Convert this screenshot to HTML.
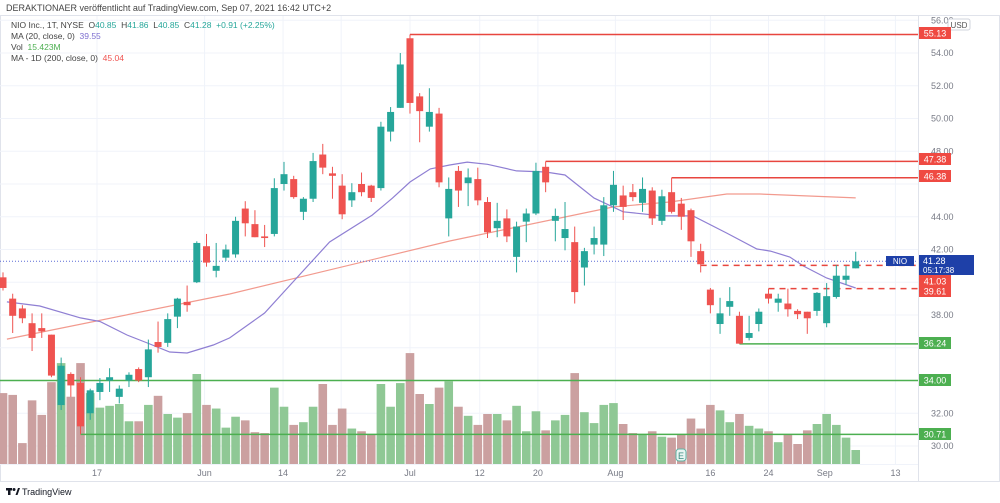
<!DOCTYPE html>
<html><head><meta charset="utf-8">
<style>
body{margin:0;background:#fff;width:1000px;height:503px;overflow:hidden;font-family:"Liberation Sans",sans-serif}
svg{position:absolute;left:0;top:0}
</style></head>
<body>
<svg id="chart" width="1000" height="503" xmlns="http://www.w3.org/2000/svg"></svg>
<script>
const opens=[40.3,39.0,38.4,37.5,37.2,36.8,32.5,34.4,33.85,32.0,33.3,34.0,33.0,34.0,34.7,34.2,36.35,36.3,37.9,38.8,40.0,42.2,40.7,41.5,41.7,44.5,43.55,42.8,42.95,46.0,46.3,44.3,45.1,47.8,46.65,45.9,45.0,46.0,45.9,45.75,49.2,50.65,54.9,51.35,49.5,50.3,43.9,46.8,46.05,46.3,44.9,43.3,43.9,41.55,43.7,44.2,47.05,43.75,42.7,42.45,40.9,42.3,42.3,44.7,45.3,45.5,44.85,45.6,43.75,45.5,44.8,44.4,41.9,39.55,37.45,38.5,37.95,36.6,37.45,39.3,38.75,38.7,38.25,38.2,38.25,37.5,39.1,40.15,40.85];
const closes=[39.65,37.95,37.8,36.6,37.0,34.3,34.9,33.7,31.2,33.4,33.85,34.2,33.5,34.35,34.0,35.9,36.05,37.75,39.0,38.6,42.4,41.2,41.0,42.0,43.75,43.6,42.75,42.7,45.75,46.6,45.2,45.1,47.4,47.0,46.5,44.15,45.5,45.5,45.15,49.5,50.4,53.3,50.95,50.45,50.4,46.1,45.7,45.6,46.4,45.0,43.05,43.75,42.8,43.4,44.2,46.8,46.1,44.05,43.25,39.4,41.9,42.7,44.7,45.95,44.6,45.2,45.7,43.9,45.25,44.3,44.0,42.5,41.1,38.6,38.1,38.85,36.25,36.9,38.2,39.0,39.0,38.35,38.05,37.8,39.35,39.15,40.4,40.4,41.28];
const highs=[40.6,39.3,38.6,38.1,38.1,36.8,35.4,34.5,34.2,33.5,34.15,34.75,33.7,34.5,34.8,36.5,37.6,38.1,39.05,39.8,42.5,42.95,42.4,42.3,44.0,44.95,44.4,43.5,46.35,47.35,46.5,45.2,47.9,48.45,47.05,46.6,46.05,46.7,45.95,49.8,50.7,54.0,55.13,51.55,51.85,50.65,46.4,47.1,46.95,47.0,45.2,44.85,44.45,43.7,44.5,47.3,47.38,44.5,44.9,43.4,42.1,43.4,45.2,46.8,45.9,46.0,46.4,45.8,45.65,46.38,45.15,44.5,42.35,39.65,39.05,39.7,38.2,37.95,38.4,39.61,39.3,39.61,38.35,38.2,39.4,39.95,41.05,41.0,41.86];
const lows=[39.5,36.9,37.5,35.8,36.6,34.2,32.2,33.0,30.71,31.6,32.8,33.3,32.6,33.6,33.9,33.6,35.7,36.05,37.2,38.2,39.95,40.95,40.3,41.3,41.5,42.8,42.75,42.15,42.8,45.6,45.1,43.8,44.9,46.6,45.1,43.85,44.6,45.25,44.9,45.6,48.6,50.65,50.3,48.55,49.2,45.8,42.8,44.6,44.65,44.7,42.7,42.75,42.45,40.6,42.45,44.1,45.5,42.5,41.95,38.7,39.8,41.7,41.6,44.3,43.8,44.95,44.3,43.5,43.5,44.2,43.2,41.55,40.6,38.1,36.85,37.95,36.24,36.45,37.0,38.7,38.2,37.9,37.75,36.85,37.95,37.25,39.0,39.85,40.85];
const volumes=[78,76,23,70,54,90,111,74,111,78,62,64,66,47,47,65,75,55,51,56,99,65,61,40,52,48,35,34,84,63,43,46,63,88,43,61,39,36,32,88,63,89,122,77,66,84,91,63,53,43,55,55,48,64,36,58,37,48,54,100,57,45,65,67,44,34,33,36,30,29,32,50,39,65,59,46,55,42,39,36,24,33,22,37,44,55,43,29,15.4];
const ma20Idx=[0.4,3.8,8,10,12.8,14.9,17.2,19,21.7,23.4,27,30.3,33.7,38.1,40.2,42,44.1,46.1,47.9,50,53,56,58,61,64,68,71.2,74.7,77.8,79.2,81.2,82.6,85,88];
const ma20Val=[38.8,38.55,37.82,37.6,36.78,36.29,35.74,35.68,36.17,36.6,38.12,40.26,42.46,44.1,45.14,46.12,46.92,47.16,47.34,47.2,46.8,46.73,46.55,45.14,44.3,44.05,44.05,43.0,42.03,41.9,41.54,40.99,40.26,39.65];
const ma200Idx=[0.4,23.4,46.1,63,68.8,74.7,78.1,88];
const ma200Val=[36.53,39.28,42.52,44.6,44.9,45.39,45.39,45.15];
const levelVals=[55.13,47.38,46.38,41.03,39.61,36.24,34.00,30.71];
const levelStart=[42,56,69,72,79,76,-5,8];
const levelColor=['r','r','r','r','r','g','g','g'];
const levelDash=[0,0,0,1,1,0,0,0];
const levelTagY=[33,159,176,281,291,343,380,434];
const priceTicks=[56,54,52,50,48,44,42,38,32,30];
const dateLabels=['10','17','Jun','14','22','Jul','12','20','Aug','16','24','Sep','13','20'];
const dateIdx=[-1,9.7,20.8,28.9,34.9,42,49.2,55.2,63.2,73,79,84.8,92.1,97.8];

const svg=document.getElementById('chart');
const NS='http://www.w3.org/2000/svg';
const PW=918, PB=464;
const X=i=>3+i*9.69;
const Y=p=>53+(54-p)*16.375;
const VY=v=>PB-v/1.1;
const G='#26a69a', R='#ef5350';
function mk(tag,attrs,parent){const e=document.createElementNS(NS,tag);for(const k in attrs)e.setAttribute(k,attrs[k]);(parent||svg).appendChild(e);return e;}

// frame
const frame=mk('rect',{x:0.5,y:15.5,width:999,height:466,fill:'#fff',stroke:'#e0e3eb'});


const grid=mk('g',{stroke:'#f0f3fa','stroke-width':1});


for(let p=30;p<=56;p+=2){mk('line',{x1:0,x2:PW,y1:Y(p),y2:Y(p)},grid);}
dateIdx.forEach(d=>{mk('line',{x1:X(d),x2:X(d),y1:16,y2:PB},grid);});

// volume
const vg=mk('g',{});


volumes.forEach((v,i)=>{
  const up=closes[i]>=opens[i];
  const b=mk('rect',{x:X(i)-4.3,y:VY(v),width:8.6,height:PB-VY(v),fill:up?'#8fc895':'#cba0a0'},vg);
  
  
});

// MA lines
function lineFrom(idx,val,color,name){
  const d=idx.map((t,k)=>(k?'L':'M')+X(t).toFixed(1)+' '+Y(val[k]).toFixed(1)).join(' ');
  const p=mk('path',{d:d,fill:'none',stroke:color,'stroke-width':1.2});
  
  
}
lineFrom(ma200Idx,ma200Val,'#f29a8e','ma200-line');
lineFrom(ma20Idx,ma20Val,'#8f7fd3','ma20-line');

// current price dotted
const cur=closes[closes.length-1];
const dl=mk('line',{x1:0,x2:PW,y1:Y(cur),y2:Y(cur),stroke:'#5b6bd6','stroke-width':1,'stroke-dasharray':'1 2'});



// levels
levelVals.forEach((v,k)=>{
  const c=levelColor[k]==='r'?'#e8463f':'#4caf50';
  const ln=mk('line',{x1:Math.max(0,X(levelStart[k])),x2:PW,y1:Y(v),y2:Y(v),stroke:c,'stroke-width':1.5,'stroke-dasharray':levelDash[k]?'6 5':'none'});
  
  
});

// candles
const cg=mk('g',{});


opens.forEach((o,i)=>{
  const c=closes[i],up=c>=o,col=up?G:R,x=X(i);
  const w=mk('line',{x1:x,x2:x,y1:Y(highs[i]),y2:Y(lows[i]),stroke:col,'stroke-width':1},cg);
  
  
  const top=Y(Math.max(o,c)),h=Math.max(1.5,Y(Math.min(o,c))-top);
  const b=mk('rect',{x:x-3.5,y:top,width:7,height:h,fill:col},cg);
  
  
});

// earnings marker
const eg=mk('g',{});


mk('rect',{x:676,y:449,width:10,height:12,rx:3,fill:'#e9f5f2',stroke:'#5fb3a5'},eg);
const et=mk('text',{x:681,y:459,'font-size':9,fill:'#3c8c80','text-anchor':'middle'},eg);et.textContent='E';

// right axis
mk('rect',{x:PW,y:16,width:81,height:465,fill:'#fff'});
mk('line',{x1:PW+0.5,x2:PW+0.5,y1:16,y2:481,stroke:'#e0e3eb'});
mk('line',{x1:0,x2:1000,y1:481.5,y2:481.5,stroke:'#e0e3eb'});
mk('line',{x1:0,x2:PW,y1:PB+0.5,y2:PB+0.5,stroke:'#f0f3fa'});
priceTicks.forEach(p=>{
  const t=mk('text',{x:931,y:Y(p)+3,'font-size':9,fill:'#787b86'});
  t.textContent=p.toFixed(2);
  
  
});
const usd=mk('g',{});


mk('rect',{x:948,y:19,width:22,height:11,rx:2,fill:'#fff',stroke:'#d1d4dc'},usd);
const ut=mk('text',{x:959,y:28,'font-size':8,fill:'#555','text-anchor':'middle'},usd);ut.textContent='USD';

levelVals.forEach((v,k)=>{
  const c=levelColor[k]==='r'?'#ef4a42':'#4caf50';
  const g=mk('g',{});
  
  
  mk('rect',{x:919,y:levelTagY[k]-6,width:32,height:12,fill:c},g);
  const t=mk('text',{x:935,y:levelTagY[k]+3.5,'font-size':9,fill:'#fff','text-anchor':'middle'},g);
  t.textContent=v.toFixed(2);
});
// last price tag
const lp=mk('g',{});


mk('rect',{x:919,y:255,width:55,height:20,fill:'#1e40a8'},lp);
const l1=mk('text',{x:923,y:264,'font-size':9,fill:'#fff'},lp);l1.textContent=cur.toFixed(2);
const l2=mk('text',{x:923,y:273,'font-size':8,fill:'#fff'},lp);l2.textContent='05:17:38';
const nio=mk('g',{});


mk('rect',{x:930-44,y:256,width:28,height:10,fill:'#1e40a8'},nio);
const nt=mk('text',{x:900,y:264,'font-size':8,fill:'#fff','text-anchor':'middle'},nio);nt.textContent='NIO';

// x axis labels
dateLabels.forEach((s,k)=>{
  const x=X(dateIdx[k]);
  if(x<-5||x>PW+10)return;
  const t=mk('text',{x:x,y:476,'font-size':9,fill:'#787b86','text-anchor':'middle'});
  t.textContent=s;
  
  
});

// header & legend
function txt(x,y,s,size,fill,name){const t=mk('text',{x:x,y:y,'font-size':size,fill:fill});t.innerHTML=s;return t;}
mk('rect',{x:0,y:0,width:1000,height:15,fill:'#fff'});
txt(6,11,'DERAKTIONAER veröffentlicht auf TradingView.com, Sep 07, 2021 16:42 UTC+2',9,'#444','publisher-header');
txt(11,28,'NIO Inc., 1T, NYSE &#160;<tspan fill="#444">O</tspan><tspan fill="#26a69a">40.85</tspan> &#160;<tspan fill="#444">H</tspan><tspan fill="#26a69a">41.86</tspan> &#160;<tspan fill="#444">L</tspan><tspan fill="#26a69a">40.85</tspan> &#160;<tspan fill="#444">C</tspan><tspan fill="#26a69a">41.28 &#160;+0.91 (+2.25%)</tspan>',8.5,'#444','ohlc-legend');
txt(11,39,'MA (20, close, 0) &#160;<tspan fill="#7e6fd0">39.55</tspan>',8.5,'#444','ma20-legend');
txt(11,50,'Vol &#160;<tspan fill="#4caf50">15.423M</tspan>',8.5,'#444','volume-legend');
txt(11,61,'MA - 1D (200, close, 0) &#160;<tspan fill="#ef5350">45.04</tspan>',8.5,'#444','ma200-legend');
// footer logo
const lg=mk('g',{});


mk('rect',{x:6,y:488,width:6,height:2.5,fill:'#131722'},lg);
mk('rect',{x:8,y:488,width:2.5,height:7,fill:'#131722'},lg);
mk('circle',{cx:14,cy:489.5,r:1.5,fill:'#131722'},lg);
mk('path',{d:'M15.5 495 L18 488 L20 488 L17.5 495 Z',fill:'#131722'},lg);
const lt=mk('text',{x:22,y:495,'font-size':9,fill:'#131722'},lg);lt.textContent='TradingView';
</script>
</body></html>
